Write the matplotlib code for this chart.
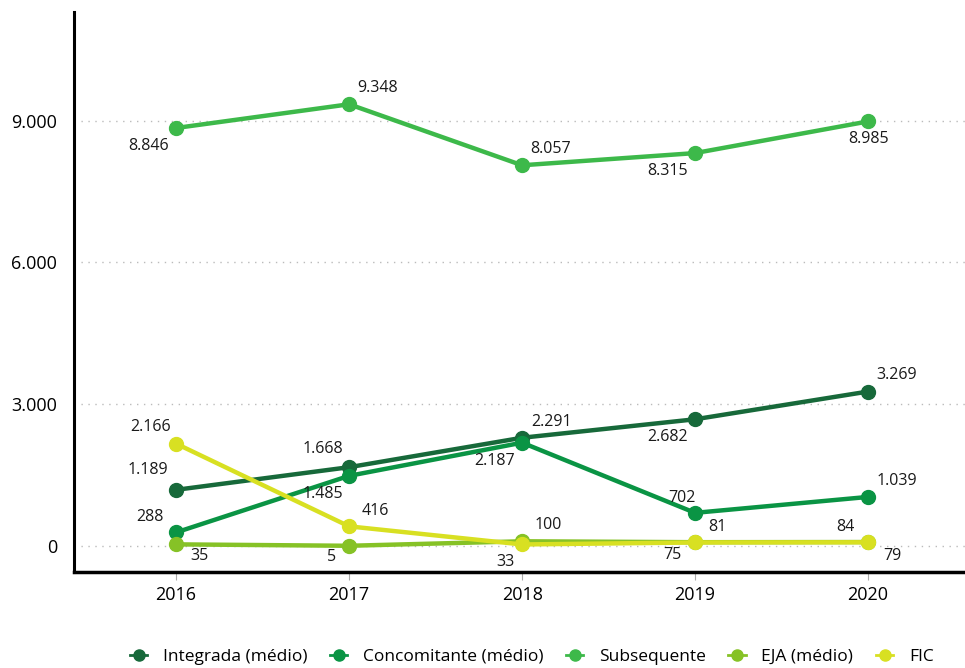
import matplotlib.pyplot as plt
from matplotlib.lines import Line2D

# dados
anos = ['2016', '2017', '2018', '2019', '2020']
series = ['Integrada (médio)', 'Concomitante (médio)', 'Subsequente', 'EJA (médio)', 'FIC']
integrada = [1189, 1668, 2291, 2682, 3269]
concomitante = [288, 1485, 2187, 702, 1039]
subsequente = [8846, 9348, 8057, 8315, 8985]
eja = [35, 5, 100, 81, 84]
fic = [2166, 416, 33, 75, 79]
valores = [integrada, concomitante, subsequente, eja, fic]
yticks = [0, 3000, 6000, 9000]

cores = ['#17693a', '#0a9444', '#3db94a', '#86c226', '#d8e022']

# posicao dos rotulos (pixels relativos ao ponto)
offs = [
    [(-28, 20), (-26, 18), (29, 16), (-28, -18), (29, 17)],
    [(-26, 15), (-26, -18), (-28, -18), (-13, 15), (29, 16)],
    [(-28, -18), (28, 16), (28, 16), (-28, -18), (0, -18)],
    [(23, -12), (-18, -11), (26, 16), (22, 15), (-23, 15)],
    [(-26, 17), (26, 15), (-17, -18), (-23, -13), (24, -14)],
]

def fmt(v):
    return f'{v:,}'.replace(',', '.')

plt.rcParams['font.family'] = ['Open Sans', 'DejaVu Sans']

fig = plt.figure(figsize=(9.65, 6.68), dpi=100)
ax = fig.add_axes([0.0767, 0.1437, 0.9233, 0.8383])

x = list(range(len(anos)))
for i, nome in enumerate(series):
    ax.plot(x, valores[i], color=cores[i], lw=3.2, marker='o', ms=10, label=nome,
            solid_capstyle='round')
    for j, v in enumerate(valores[i]):
        ax.annotate(fmt(v), (x[j], v), xytext=offs[i][j], textcoords='offset pixels',
                    ha='center', va='center', fontsize=11.5, color='#1a1a1a')

ax.set_xlim(-0.59, 4.56)
ax.set_ylim(-550, 11300)
ax.set_xticks(x)
ax.set_xticklabels(anos, fontsize=13)
ax.set_yticks(yticks)
ax.set_yticklabels([fmt(t) for t in yticks], fontsize=13)
ax.tick_params(axis='y', length=0, pad=12)
ax.tick_params(axis='x', length=6, color='#aaaaaa', direction='out', pad=4)
for t in yticks:
    ax.axhline(t, color='#bbbbbb', lw=1, ls=(0, (1, 4)), zorder=0)

for s in ['top', 'right']:
    ax.spines[s].set_visible(False)
ax.spines['left'].set_linewidth(2.2)
ax.spines['bottom'].set_linewidth(2.5)

handles = [Line2D([0], [0], color=c, marker='o', ms=8, lw=2) for c in cores]
fig.legend(handles, series, loc='center', bbox_to_anchor=(0.551, 0.017), ncol=5,
           frameon=False, fontsize=12.5, handlelength=1.0, columnspacing=1.3,
           handletextpad=0.9)

fig.savefig('out.png', dpi=100)
